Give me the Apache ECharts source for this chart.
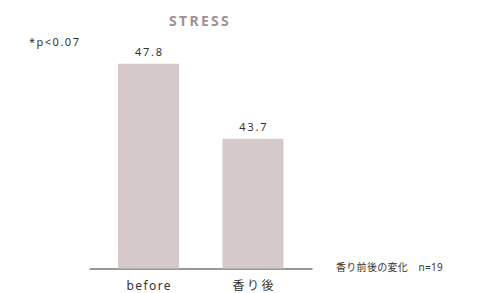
<!DOCTYPE html>
<html><head><meta charset="utf-8">
<script src="https://cdn.jsdelivr.net/npm/echarts@6/dist/echarts.min.js"></script>
<style>html,body{margin:0;padding:0;background:#fff}#c{width:483px;height:293px}</style>
</head><body><div id="c"></div>
<script>
const categories = ['before', '香り後'];
const values = [47.8, 43.7];
const titleText = 'STRESS';
const noteText = '*p<0.07';
const footText = '香り前後の変化　n=19';

const chart = echarts.init(document.getElementById('c'), null, {renderer: 'svg'});
const font = "'Noto Sans', 'Noto Sans CJK JP', sans-serif";
chart.setOption({
  animation: false,
  backgroundColor: '#fff',
  title: [
    {text: titleText, left: 164, top: 8,
     textStyle: {fontSize: 14, fontWeight: 'bold', color: '#a09090', fontFamily: font}},
    {text: noteText, left: 24, top: 31,
     textStyle: {fontSize: 11, fontWeight: 'normal', color: '#333', fontFamily: font}},
    {text: footText, left: 331, top: 257,
     textStyle: {fontSize: 10, fontWeight: 'normal', color: '#333', fontFamily: font}}
  ],
  grid: {left: 90, width: 222, top: 23.5, height: 245, containLabel: false},
  xAxis: {
    type: 'value', min: -0.56, max: 1.565,
    splitLine: {show: false},
    axisTick: {show: false},
    axisLine: {show: true, onZero: false, lineStyle: {color: '#777', width: 1.5}},
    axisLabel: {
      customValues: [0, 1],
      formatter: v => categories[Math.round(v)],
      margin: 11, fontSize: 12, color: '#333', fontFamily: font
    }
  },
  yAxis: {
    type: 'value', min: 36.6, max: 50,
    show: false
  },
  series: [{
    type: 'bar',
    barWidth: 61,
    data: values.map((v, i) => [i, v]),
    itemStyle: {color: '#d6c9c9'},
    label: {show: true, position: 'top', distance: 7, fontSize: 11, color: '#333', fontFamily: font,
      formatter: p => p.value[1].toFixed(1)}
  }]
});
// letter spacing styling (text stays real text)
const spacing = {};
spacing[titleText] = 2.3;
spacing[noteText] = 1.5;
spacing[footText] = 0.3;
spacing[categories[0]] = 1.4;
spacing[categories[1]] = 2.6;
values.forEach(v => { spacing[v.toFixed(1)] = 1.8; });
document.querySelectorAll('#c svg text').forEach(t => {
  const s = spacing[t.textContent];
  if (s != null) {
    t.setAttribute('letter-spacing', s);
    const anchor = t.getAttribute('text-anchor');
    if (anchor === 'middle') {
      const x = parseFloat(t.getAttribute('x') || '0');
      t.setAttribute('x', x + s / 2);
    }
  }
});
</script></body></html>
